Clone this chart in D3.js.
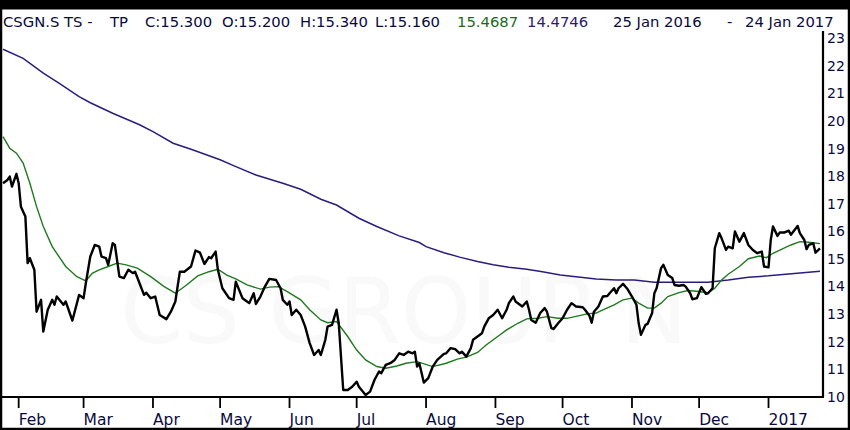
<!DOCTYPE html>
<html>
<head>
<meta charset="utf-8">
<script src="https://cdn.jsdelivr.net/npm/d3@7"></script>
<style>
  html, body { margin: 0; padding: 0; background: #fff; }
  svg { display: block; }
  text { font-family: "DejaVu Sans", Verdana, sans-serif; }
</style>
</head>
<body>
<svg id="chart" width="850" height="430"></svg>
<script>
// ---------- DATA (day offset from 25 Jan 2016, value) ----------
const startDay = "2016-01-25";
const endDay = "2017-01-24";

const priceDays = [0,2,3,4,6,7,8,10,11,12,14,15,17,18,20,22,23,24,27,28,31,34,36,37,39,41,43,44,46,47,49,50,52,54,56,58,59,61,63,64,66,68,70,73,75,77,79,81,84,86,88,90,92,93,95,96,98,101,103,104,107,109,110,112,113,115,117,119,122,124,125,127,128,129,131,133,135,137,139,141,142,144,145,147,149,150,152,154,156,158,159,162,164,166,168,169,171,173,175,177,179,181,183,184,185,186,188,190,192,194,197,198,200,202,204,205,207,209,210,212,214,215,217,219,221,223,225,226,228,229,232,234,235,236,238,240,242,243,245,246,248,250,252,254,256,259,260,262,263,264,266,268,270,271,273,274,275,277,279,281,283,284,285,287,288,290,291,292,294,295,297,299,300,302,304,305,307,308,310,312,314,315,317,318,320,321,323,324,326,327,329,331,333,335,337,339,340,342,343,344,346,347,349,351,352,355,356,358,359,360,362,363,365];
const priceValues = [17.66,17.78,17.90,17.54,18.00,17.66,16.81,16.45,14.76,14.94,14.52,13.00,13.43,12.28,13.07,13.43,13.25,13.55,13.25,13.37,12.68,13.61,13.49,14.03,15.00,15.42,15.36,15.00,14.94,14.70,15.48,15.42,14.27,14.22,14.52,14.40,14.45,14.03,13.61,13.69,13.49,13.55,12.88,12.73,13.00,13.37,14.45,14.45,14.64,15.22,15.14,14.73,14.98,14.94,15.18,14.52,13.85,13.49,13.43,14.09,13.49,13.37,13.31,13.67,13.28,13.55,13.91,14.19,14.15,13.85,13.43,13.25,13.37,12.88,13.07,12.88,12.46,11.86,11.43,11.61,11.43,11.98,12.46,12.52,13.07,12.58,10.16,10.16,10.28,10.46,10.28,9.98,10.10,10.53,10.83,10.77,11.07,11.13,11.25,11.49,11.43,11.55,11.49,11.55,11.01,11.13,10.43,10.59,11.01,11.25,11.47,11.49,11.68,11.64,11.49,11.55,11.37,11.68,11.98,12.10,12.22,12.46,12.76,12.88,13.07,12.76,13.07,13.31,13.55,13.37,13.19,13.37,13.07,12.70,12.60,12.95,13.13,13.00,12.40,12.37,12.58,12.76,13.07,13.31,13.19,13.16,13.07,12.85,12.60,13.00,13.19,13.55,13.57,13.67,13.85,13.67,13.85,14.01,13.82,13.55,13.25,12.58,12.16,12.52,12.56,12.95,13.67,13.85,14.58,14.70,14.33,14.22,13.97,13.94,13.97,13.91,13.67,13.45,13.49,13.89,13.65,13.67,13.85,15.30,15.85,15.67,15.24,15.36,15.30,15.91,15.54,15.85,15.42,15.24,15.12,15.18,14.64,14.61,15.60,16.09,15.75,15.87,15.87,15.94,15.79,16.11,15.85,15.60,15.27,15.42,15.48,15.14,15.30];

const ma50Days = [0,3,6,9,12,15,18,22,28,33,37,40,43,47,51,55,60,66,72,77,82,87,92,96,100,104,109,115,119,123,127,133,137,142,145,149,154,158,162,167,171,176,180,185,192,198,203,207,212,216,221,225,230,234,239,243,248,252,257,261,265,268,273,277,281,284,288,291,294,297,302,306,311,315,318,321,324,329,333,338,341,344,348,352,356,360,365];
const ma50Values = [19.35,18.93,18.75,18.39,17.66,16.81,16.09,15.36,14.64,14.27,14.12,14.40,14.52,14.64,14.76,14.70,14.58,14.27,13.91,13.67,13.97,14.30,14.45,14.54,14.33,14.19,13.97,13.82,13.89,13.91,13.73,13.43,13.07,12.70,12.60,12.64,12.10,11.61,11.25,11.01,10.95,11.03,11.13,11.19,11.01,11.13,11.28,11.35,11.52,11.80,12.10,12.34,12.58,12.74,12.76,12.82,12.76,12.76,12.85,12.92,12.95,13.07,13.25,13.43,13.49,13.31,13.13,13.13,13.31,13.55,13.69,13.77,13.73,13.69,13.85,14.15,14.36,14.64,14.92,15.02,14.96,15.12,15.27,15.42,15.54,15.52,15.47];

const ma200Days = [0,9,18,25,34,39,49,61,67,76,84,97,103,113,125,133,142,149,159,167,177,186,189,197,204,212,219,226,234,241,249,256,265,274,282,291,303,315,324,333,342,351,365];
const ma200Values = [22.52,22.19,21.65,21.29,20.80,20.58,20.20,19.78,19.53,19.11,18.89,18.51,18.30,17.96,17.66,17.44,17.08,16.87,16.39,16.09,15.75,15.51,15.36,15.14,14.98,14.82,14.70,14.61,14.54,14.45,14.33,14.27,14.19,14.15,14.15,14.07,14.07,14.07,14.15,14.25,14.30,14.37,14.47];

const monthTicks = ["2016-02-01","2016-03-01","2016-04-01","2016-05-01","2016-06-01","2016-07-01","2016-08-01","2016-09-01","2016-10-01","2016-11-01","2016-12-01","2017-01-01"];
const monthLabels = ["Feb","Mar","Apr","May","Jun","Jul","Aug","Sep","Oct","Nov","Dec","2017"];
const yTicks = [10,11,12,13,14,15,16,17,18,19,20,21,22,23];

const headerParts = [
  {text: "CSGN.S TS -", x: 3, color: "#0a0a40"},
  {text: "TP", x: 110, color: "#0a0a40"},
  {text: "C:15.300", x: 145, color: "#0a0a40"},
  {text: "O:15.200", x: 222, color: "#0a0a40"},
  {text: "H:15.340", x: 300, color: "#0a0a40"},
  {text: "L:15.160", x: 375, color: "#0a0a40"},
  {text: "15.4687", x: 457, color: "#1b6b1b"},
  {text: "14.4746", x: 527, color: "#2e1a6e"},
  {text: "25 Jan 2016", x: 613, color: "#0a0a40"},
  {text: "-", x: 727, color: "#0a0a40"},
  {text: "24 Jan 2017", x: 745, color: "#0a0a40"}
];

// ---------- DRAW ----------
const parse = d3.utcParse("%Y-%m-%d");
const t0 = parse(startDay), t1 = parse(endDay);
const svg = d3.select("#chart");
const W = 850, H = 430;
const plotRight = 823, plotBottom = 397, plotTop = 31;

const x = d3.scaleUtc().domain([t0, t1]).range([3, 820]);
const y = d3.scaleLinear().domain([10, 23]).range([394.4, 36]);

const toPts = (days, vals) => days.map((d, i) => ({date: d3.utcDay.offset(t0, d), v: vals[i]}));
const line = d3.line().x(d => x(d.date)).y(d => y(d.v));

// watermark
svg.append("text")
  .attr("x", 120).attr("y", 343)
  .attr("font-size", 90)
  .attr("fill", "#f9f9f9")
  .text("CS GROUP N");

// series
svg.append("path").datum(toPts(ma200Days, ma200Values))
  .attr("d", line).attr("fill", "none")
  .attr("stroke", "#2b1d80").attr("stroke-width", 1.5);
svg.append("path").datum(toPts(ma50Days, ma50Values))
  .attr("d", line).attr("fill", "none")
  .attr("stroke", "#1f7a1f").attr("stroke-width", 1.4);
svg.append("path").datum(toPts(priceDays, priceValues))
  .attr("d", line).attr("fill", "none")
  .attr("stroke", "#000").attr("stroke-width", 2.4)
  .attr("stroke-linejoin", "round");

// frame
svg.append("rect").attr("x", 0).attr("y", 0).attr("width", W).attr("height", 9.5).attr("fill", "#000");
svg.append("rect").attr("x", 1).attr("y", 1).attr("width", W - 2).attr("height", H - 2)
  .attr("fill", "none").attr("stroke", "#000").attr("stroke-width", 2.5);
svg.append("line").attr("x1", 0).attr("x2", plotRight + 1).attr("y1", plotBottom).attr("y2", plotBottom)
  .attr("stroke", "#000").attr("stroke-width", 2.2);
svg.append("line").attr("x1", plotRight).attr("x2", plotRight).attr("y1", plotTop).attr("y2", plotBottom)
  .attr("stroke", "#000").attr("stroke-width", 2.2);

// x axis ticks & labels
const xt = svg.append("g");
monthTicks.forEach((m, i) => {
  const px = x(parse(m));
  xt.append("line").attr("x1", px).attr("x2", px).attr("y1", plotBottom).attr("y2", 408)
    .attr("stroke", "#000").attr("stroke-width", 1.8);
  xt.append("text").attr("x", px).attr("y", 425)
    .attr("font-size", 15.5)
    .attr("fill", "#0a0a40").text(monthLabels[i]);
});

// y axis labels (right)
const yt = svg.append("g");
yTicks.forEach(v => {
  yt.append("text").attr("x", 827).attr("y", y(v) + 7.3)
    .attr("font-size", 14).attr("fill", "#0a0a40").text(v);
});

// header
const hdr = svg.append("g");
headerParts.forEach(p => {
  hdr.append("text").attr("x", p.x).attr("y", 26.5)
    .attr("font-size", 14.8).attr("fill", p.color).text(p.text);
});
</script>
</body>
</html>
